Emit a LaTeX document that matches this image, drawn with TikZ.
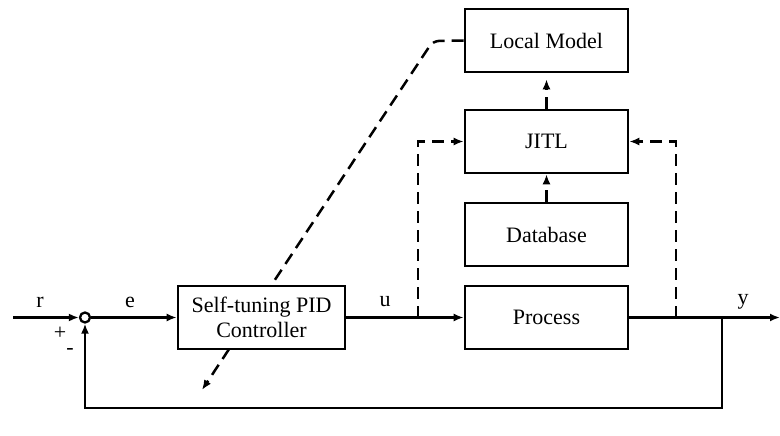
\documentclass[tikz,border=0pt]{standalone}
\usepackage{fontspec}
\setmainfont{Liberation Serif}
\usetikzlibrary{arrows.meta}
\begin{document}
\begin{tikzpicture}[x=1pt,y=-1pt,
  block/.style={draw,line width=2.6pt,fill=white,minimum width=163pt,minimum height=63pt,inner sep=0pt,font=\fontsize{22}{25}\selectfont,align=center},
  sig/.style={line width=2.3pt,-{Latex[length=10pt,width=8pt]}},
  dsig/.style={line width=2.5pt,dash pattern=on 12pt off 7pt,-{Latex[length=10pt,width=8pt]}},
  lbl/.style={font=\fontsize{22}{25}\selectfont,inner sep=0pt}]
\useasboundingbox (0,0) rectangle (780,436);

% adaptation path from the local model back to the controller
\coordinate (bend) at (433,41);
\coordinate (tip) at (202,390);

% blocks
\node[block] (lm) at (546.5,40.5) {Local Model};
\draw[line width=2.5pt,dash pattern=on 12pt off 7pt,rounded corners=6pt,-{Latex[length=10pt,width=8pt]}]
  (lm.west) -- (bend) -- (tip);
\node[block] (jitl) at (546.5,141.5) {JITL};
\node[block] (db) at (546.5,234.5) {Database};
\node[block] (proc) at (546.5,317.5) {Process};
\node[block,minimum width=167pt] (pid) at (261.5,317.5) {Self-tuning PID\\Controller};

% summing junction
\node[draw,circle,line width=2.3pt,minimum size=10pt,inner sep=0pt,fill=white] (sum) at (85,317.5) {};

% coordinates of the signal lines
\coordinate (rin) at (13,317.5);
\coordinate (ubr) at (418,317.5);
\coordinate (ybr) at (676,317.5);
\coordinate (fb) at (722,317.5);
\coordinate (yout) at (780,317.5);
\coordinate (fbr) at (722,408);
\coordinate (fbl) at (85,408);

% forward path
\draw[sig] (rin) -- (sum.west);
\draw[sig] (sum.east) -- (pid.west);
\draw[sig] (pid.east) -- (proc.west);
\draw[sig] (proc.east) -- (yout);
\draw[sig] (fb) -- (fbr) -- (fbl) -- (sum.south);

% data paths to the JITL block
\draw[dsig] (ubr) |- (jitl.west);
\draw[dsig] (ybr) |- (jitl.east);
\draw[dsig] (db.north) -- (jitl.south);
\draw[dsig,shorten >=6pt] (jitl.north) -- (lm.south);

% labels
\node[lbl] (lr) at (40,302) {r};
\node[lbl] (le) at (130,302) {e};
\node[lbl] (lp) at (60,333) {+};
\node[lbl] (lmn) at (70,351) {-};
\node[lbl] (lu) at (385,302) {u};
\node[lbl] (ly) at (743,302) {y};
\end{tikzpicture}
\end{document}
